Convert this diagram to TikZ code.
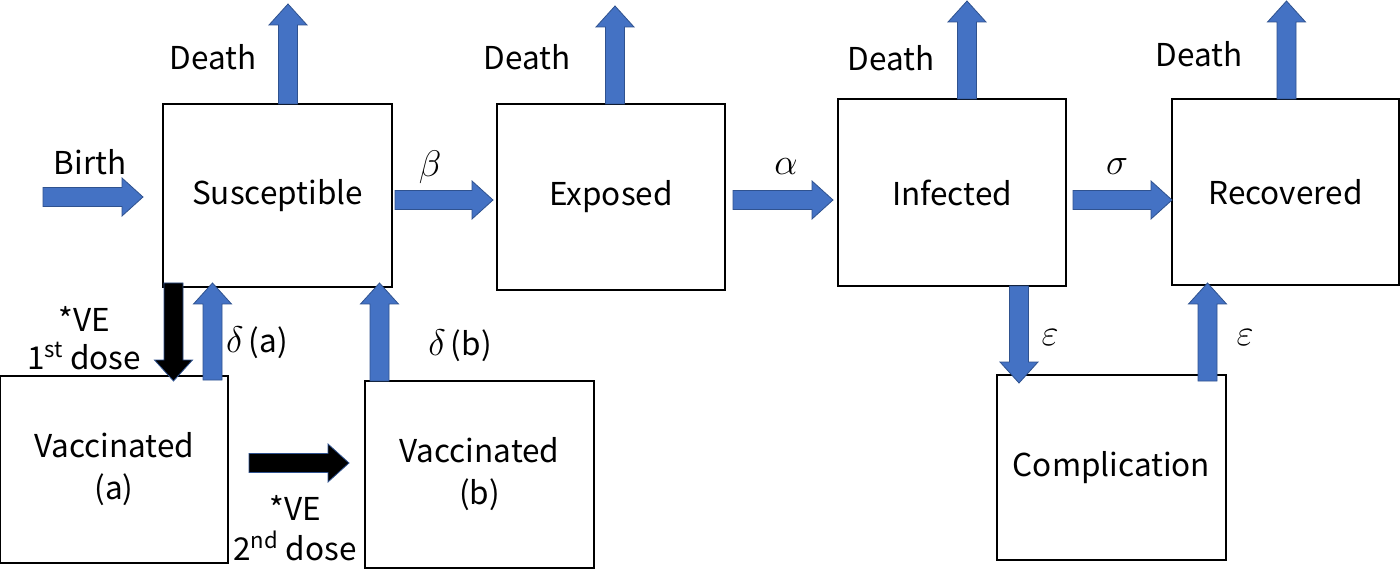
\RequirePackage{fix-cm}
\documentclass[tikz,border=0pt]{standalone}
\usepackage{fontspec}
\setmainfont{Noto Sans CJK JP}
\usetikzlibrary{calc}
\definecolor{arrowblue}{HTML}{4472C4}
\definecolor{arrowedge}{HTML}{2F528F}
\newcommand{\baSW}{9.5pt}
\newcommand{\baHW}{19pt}
\newcommand{\baHL}{21pt}
\newcommand{\gk}[1]{{\fontsize{37}{42}\selectfont$#1$}}
\tikzset{
  box/.style={draw, line width=1.3pt, inner sep=0pt, outer sep=0pt, align=center,
    font=\fontsize{31.5}{42}\selectfont},
  lbl/.style={inner sep=0pt, align=center, font=\fontsize{31.5}{42}\selectfont},
  blockshape/.style={draw=arrowedge, line width=0.8pt, line join=miter,
    to path={
      ($(\tikztostart)!\baSW!-90:(\tikztotarget)$) --
      ($(\tikztotarget)!\baHL!(\tikztostart)!\baSW!-90:(\tikztotarget)$) --
      ($(\tikztotarget)!\baHL!(\tikztostart)!\baHW!-90:(\tikztotarget)$) --
      (\tikztotarget) --
      ($(\tikztotarget)!\baHL!(\tikztostart)!\baHW!90:(\tikztotarget)$) --
      ($(\tikztotarget)!\baHL!(\tikztostart)!\baSW!90:(\tikztotarget)$) --
      ($(\tikztostart)!\baSW!90:(\tikztotarget)$) -- cycle}},
  bluearrow/.style={blockshape, fill=arrowblue},
  blackarrow/.style={blockshape, fill=black},
}
\begin{document}
\begin{tikzpicture}[x=1pt,y=-1pt]
\fill[white] (0,0) rectangle (1400,569);
\useasboundingbox (0,0) rectangle (1400,569);

% compartments
\node[box, minimum width=229pt, minimum height=183pt] (S) at (277.5,195.5) {Susceptible};
\node[box, minimum width=228pt, minimum height=186pt] (E) at (611,197) {Exposed};
\node[box, minimum width=228pt, minimum height=187pt] (I) at (952,192.5) {Infected};
\node[box, minimum width=227pt, minimum height=186pt] (R) at (1285.5,192) {Recovered};
\node[box, minimum width=228pt, minimum height=187pt] (Va) at (114,469.5) {Vaccinated\\(a)};
\node[box, minimum width=229pt, minimum height=187pt] (Vb) at (479.5,474.5) {Vaccinated\\(b)};
\node[box, minimum width=229pt, minimum height=185pt] (C) at (1111.5,467.5) {Complication};

% labels
\node[lbl] (dlS) at (213,57) {Death};
\node[lbl] (dlE) at (527,57) {Death};
\node[lbl] (dlI) at (891,58) {Death};
\node[lbl] (dlR) at (1199,54) {Death};
\node[lbl] (lbirth) at (90,162) {Birth};
\node[lbl] (lbeta) at (430,167) {\gk{\beta}};
\node[lbl] (lalpha) at (786,167) {\gk{\alpha}};
\node[lbl] (lsigma) at (1117,167) {\gk{\sigma}};
\node[lbl] (lda) at (257,343) {\gk{\delta}\,(a)};
\node[lbl] (ldb) at (460,346) {\gk{\delta}\,(b)};
\node[lbl] (le1) at (1050,338) {\gk{\varepsilon}};
\node[lbl] (le2) at (1245,338) {\gk{\varepsilon}};
\node[lbl, font=\fontsize{31.5}{38}\selectfont] (lve1) at (84,338) {*VE\\1\textsuperscript{st} dose};
\node[lbl, font=\fontsize{31.5}{40}\selectfont] (lve2) at (295,528) {*VE\\2\textsuperscript{nd} dose};

% arrow end points
\coordinate (birthsrc) at (43,197);
\coordinate (birthend) at ($(S.west)+(-20,1.5)$);
\coordinate (bs) at ($(S.east)+(3,4.5)$);
\coordinate (bt) at ($(E.west)+(-4,3)$);
\coordinate (as) at ($(E.east)+(8,3)$);
\coordinate (at) at ($(I.west)+(-5,7.5)$);
\coordinate (ss) at ($(I.east)+(7,7.5)$);
\coordinate (st) at ($(R.west)+(0,8)$);
\coordinate (dSs) at ($(S.north)+(10.5,0)$);
\coordinate (dSt) at (288,4);
\coordinate (dEs) at ($(E.north)+(4,0)$);
\coordinate (dEt) at (615,6);
\coordinate (dIs) at ($(I.north)+(15,0)$);
\coordinate (dIt) at (967,1);
\coordinate (dRs) at ($(R.north)+(1,0)$);
\coordinate (dRt) at (1286.5,1);
\coordinate (v1s) at ($(S.south west)+(10.5,-4)$);
\coordinate (v1t) at ($(Va.north west)+(173.5,5)$);
\coordinate (das) at ($(Va.north west)+(212.5,4)$);
\coordinate (dat) at ($(S.south west)+(49.5,-4)$);
\coordinate (dbs) at ($(Vb.north west)+(14.5,0)$);
\coordinate (dbt) at ($(S.south east)+(-12.5,-4)$);
\coordinate (v2s) at ($(Va.east)+(21,-6.5)$);
\coordinate (v2t) at ($(Vb.west)+(-16,-11.5)$);
\coordinate (e1s) at ($(I.south west)+(181,0)$);
\coordinate (e1t) at ($(C.north west)+(22,8)$);
\coordinate (e2s) at ($(C.north east)+(-18.5,6)$);
\coordinate (e2t) at ($(R.south west)+(35.5,-2)$);

% arrows
\path[bluearrow] (birthsrc) to (birthend);
\path[bluearrow] (bs) to (bt);
\path[bluearrow] (as) to (at);
\path[bluearrow] (ss) to (st);
\path[bluearrow] (dSs) to (dSt);
\path[bluearrow] (dEs) to (dEt);
\path[bluearrow] (dIs) to (dIt);
\path[bluearrow] (dRs) to (dRt);
\path[blackarrow] (v1s) to (v1t);
\path[bluearrow] (das) to (dat);
\path[bluearrow] (dbs) to (dbt);
\path[blackarrow] (v2s) to (v2t);
\path[bluearrow] (e1s) to (e1t);
\path[bluearrow] (e2s) to (e2t);
\end{tikzpicture}
\end{document}
